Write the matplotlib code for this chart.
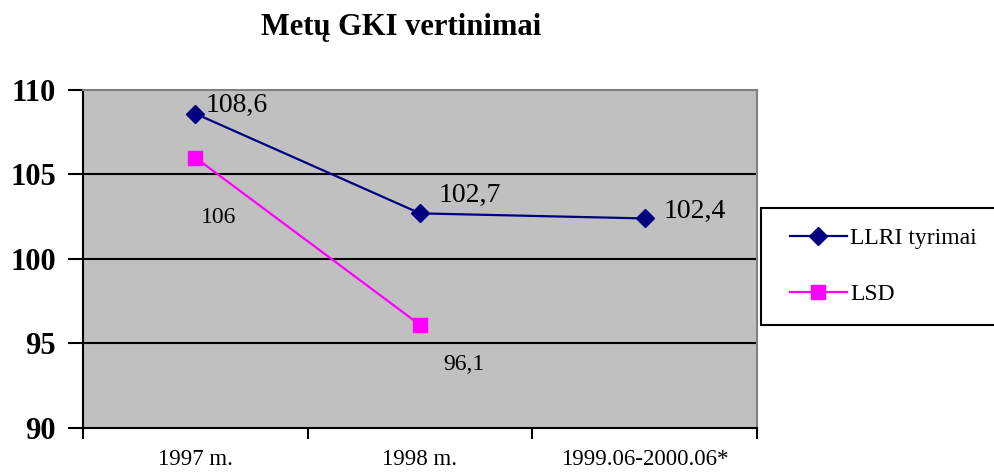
import numpy as np
import matplotlib
matplotlib.use("Agg")
import matplotlib.pyplot as plt
from matplotlib.patches import Rectangle

plt.rcParams['font.family'] = ['Liberation Serif', 'DejaVu Serif']

kategorijos = ['1997 m.', '1998 m.', '1999.06-2000.06*']
llri = [108.6, 102.7, 102.4]
lsd = [106, 96.1]
llri_zymes = ['108,6', '102,7', '102,4']
lsd_zymes = ['106', '96,1']

fig = plt.figure(figsize=(9.94, 4.74), dpi=100)
ax = fig.add_axes([83/994, 1 - 428/474, 674/994, 338/474])
ax.set_facecolor('#C0C0C0')

x = np.arange(len(kategorijos))
ax.plot(x, llri, color='#000080', lw=1.6, marker='D', ms=9, label='LLRI tyrimai', zorder=3)
ax.plot(x[:len(lsd)], lsd, color='#FF00FF', lw=1.6, marker='s', ms=10, label='LSD', zorder=3)

# zymes prie tasku
poslinkiai_llri = [(10, 8), (19, 18), (19, 7)]
for i in range(len(llri)):
    ax.annotate(llri_zymes[i], (x[i], llri[i]), textcoords='offset pixels',
                xytext=poslinkiai_llri[i], fontsize=20, ha='left', va='center')
poslinkiai_lsd = [(6, -60), (23, -40)]
for i in range(len(lsd)):
    ax.annotate(lsd_zymes[i], (x[i], lsd[i]), textcoords='offset pixels',
                xytext=poslinkiai_lsd[i], fontsize=17, ha='left', va='center')

ax.set_xlim(-0.5, 2.5)
ax.set_ylim(90, 110)
ax.set_yticks([90, 95, 100, 105, 110])
ax.set_yticklabels(['90', '95', '100', '105', '110'], fontsize=22, fontweight='bold')
ax.set_xticks([-0.5, 0.5, 1.5, 2.5])
ax.set_xticklabels([])
ax.set_xticks(x, minor=True)
ax.set_xticklabels(kategorijos, minor=True, fontsize=16.5)
ax.tick_params(axis='x', which='minor', length=0, pad=15)
ax.tick_params(axis='x', which='major', length=8, width=1.5, direction='out')
ax.tick_params(axis='y', length=11, width=1.5, direction='out', pad=8.5)

for g in [95, 100, 105]:
    ax.axhline(g, color='black', lw=1.5, zorder=1)

ax.spines['left'].set_color('black')
ax.spines['left'].set_linewidth(1.5)
ax.spines['bottom'].set_color('black')
ax.spines['bottom'].set_linewidth(1.5)
ax.spines['top'].set_color('#808080')
ax.spines['top'].set_linewidth(1.5)
ax.spines['right'].set_color('#808080')
ax.spines['right'].set_linewidth(1.5)

fig.text(401/994, 1 - 28/474, 'Metų GKI vertinimai', ha='center', va='center',
         fontsize=22, fontweight='bold')

# legendos remelis atskirai
fig.patches.append(Rectangle((761/994, 1 - 325/474), 0.3, 117/474, transform=fig.transFigure,
                             facecolor='white', edgecolor='black', lw=1.5, zorder=0))
leg = fig.legend(loc='center left', bbox_to_anchor=(790/994, 1 - 266.5/474),
                 fontsize=17, frameon=False, handlelength=2.4,
                 handletextpad=0.15, labelspacing=1.45, borderpad=0,
                 borderaxespad=0)

plt.savefig('out.png', dpi=100)
